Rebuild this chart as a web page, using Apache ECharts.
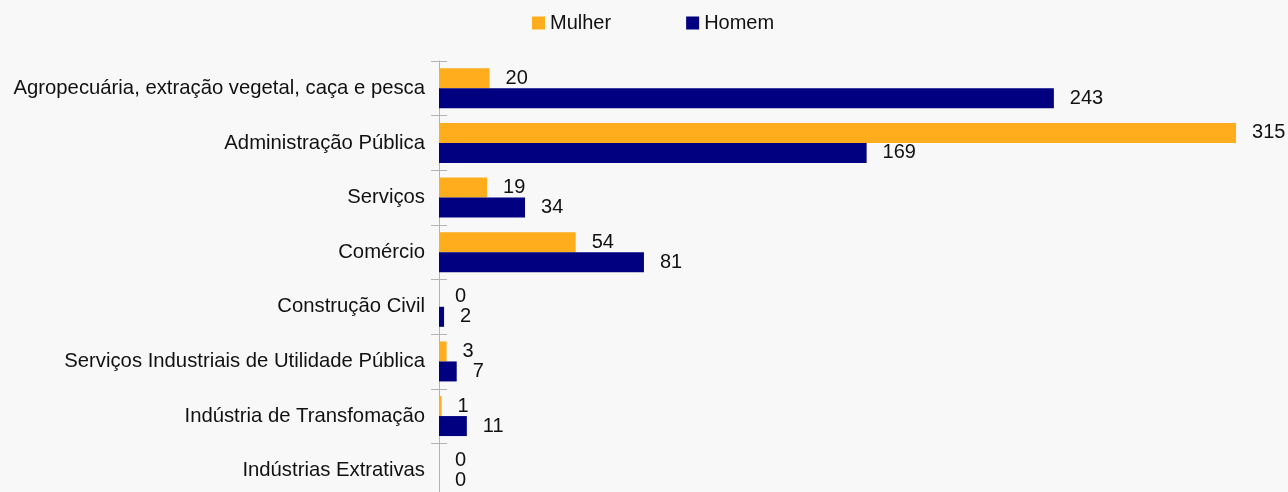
<!DOCTYPE html>
<html>
<head>
<meta charset="utf-8">
<script src="https://cdn.jsdelivr.net/npm/echarts@6/dist/echarts.min.js"></script>
<style>
  html, body { margin: 0; padding: 0; background: #f8f8f8; overflow: hidden; }
  #chart { width: 1288px; height: 500px; }
</style>
</head>
<body>
<div id="chart"></div>
<script>
// data, top to bottom as in the picture
var categories = [
  'Agropecuária, extração vegetal, caça e pesca',
  'Administração Pública',
  'Serviços',
  'Comércio',
  'Construção Civil',
  'Serviços Industriais de Utilidade Pública',
  'Indústria de Transfomação',
  'Indústrias Extrativas'
];
var mulher = [20, 315, 19, 54, 0, 3, 1, 0];
var homem = [243, 169, 34, 81, 2, 7, 11, 0];

var chart = echarts.init(document.getElementById('chart'));
var font = 'Liberation Sans, Arial, sans-serif';

var labelStyle = {
  show: true,
  position: 'right',
  distance: 16,
  color: '#111',
  fontSize: 20,
  fontFamily: font
};

var option = {
  backgroundColor: '#f8f8f8',
  animation: false,
  legend: {
    top: 8,
    left: 527,
    icon: 'rect',
    itemWidth: 13,
    itemHeight: 13,
    itemGap: 75,
    textStyle: { fontSize: 20, fontFamily: font, color: '#111' },
    data: ['Mulher', 'Homem']
  },
  grid: { left: 439, width: 835, top: 61, height: 437, containLabel: false },
  xAxis: {
    type: 'value',
    min: 0,
    max: 330,
    show: false
  },
  yAxis: [
    {
      type: 'category',
      inverse: true,
      data: categories,
      axisLine: { show: true, lineStyle: { color: '#b3b3b3', width: 1 } },
      axisTick: { show: true, length: 8, lineStyle: { color: '#b3b3b3' } },
      axisLabel: { fontSize: 20.3, fontFamily: font, color: '#111', margin: 14 }
    },
    {
      type: 'category',
      inverse: true,
      position: 'left',
      data: categories,
      axisLine: { show: false },
      axisTick: { show: true, inside: true, length: 8, lineStyle: { color: '#b3b3b3' } },
      axisLabel: { show: false }
    }
  ],
  series: [
    {
      name: 'Mulher',
      type: 'bar',
      data: mulher,
      barWidth: 20,
      barGap: '0%',
      itemStyle: { color: '#ffad1c' },
      label: labelStyle
    },
    {
      name: 'Homem',
      type: 'bar',
      data: homem,
      barWidth: 20,
      barGap: '0%',
      itemStyle: { color: '#000080' },
      label: labelStyle
    }
  ]
};

option && chart.setOption(option);
</script>
</body>
</html>
